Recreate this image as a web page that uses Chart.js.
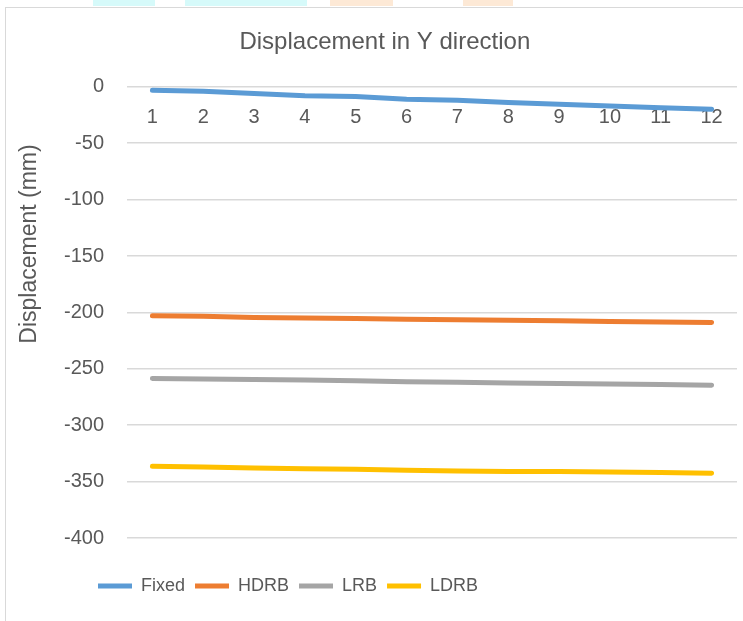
<!DOCTYPE html>
<html>
<head>
<meta charset="utf-8">
<script src="https://cdn.jsdelivr.net/npm/chart.js@4.4.1/dist/chart.umd.min.js"></script>
<style>
  html, body { margin: 0; padding: 0; background: #fff; overflow: hidden; }
  #wrap { position: relative; width: 743px; height: 621px; }
  .frame { position: absolute; left: 5px; top: 7px; width: 800px; height: 700px;
           border-left: 1.5px solid #d9d9d9; border-top: 1.5px solid #d9d9d9; }
  .blob { position: absolute; top: 0; height: 6px; }
  canvas { position: absolute; left: 0; top: 0; }
</style>
</head>
<body>
<div id="wrap">
  <div class="blob" style="left:93px;width:62px;background:#d6fafa"></div>
  <div class="blob" style="left:185px;width:122px;background:#d6fafa"></div>
  <div class="blob" style="left:330px;width:63px;background:#fde9d6"></div>
  <div class="blob" style="left:463px;width:50px;background:#fde9d6"></div>
  <div class="frame"></div>
  <canvas id="lineChart" width="743" height="621"></canvas>
</div>
<script>
'use strict';

const storeys = ['1', '2', '3', '4', '5', '6', '7', '8', '9', '10', '11', '12'];

const fixed = [-3, -4, -6, -8, -8.5, -11, -12, -14, -15.5, -17, -18.5, -20];
const hdrb = [-203, -203.5, -204.5, -205, -205.5, -206, -206.5, -207, -207.5, -208, -208.5, -209];
const lrb = [-258.5, -259, -259.5, -260, -260.5, -261.5, -262, -262.5, -263, -263.5, -264, -264.5];
const ldrb = [-336.5, -337, -338, -338.5, -339, -340, -340.5, -341, -341, -341.5, -342, -342.5];

const yTicks = [0, -50, -100, -150, -200, -250, -300, -350, -400];

const GREY = '#595959';
Chart.defaults.font.family = "'Liberation Sans', Arial, sans-serif";
Chart.defaults.color = GREY;

// excel style line
function series(label, data, colour) {
    return {
        label: label,
        data: data,
        borderColor: colour,
        backgroundColor: colour,
        borderWidth: 5,
        borderCapStyle: 'round',
        borderJoinStyle: 'round',
        pointRadius: 0,
        pointHoverRadius: 0,
        tension: 0
    };
}

// move the legend to where excel put it (left of centre, a bit lower)
const legendSpot = {
    id: 'legendSpot',
    afterLayout(chart) {
        const lg = chart.legend;
        lg.left = 88;
        lg.top += 29;
        lg.bottom += 29;
    }
};

const CHART = document.getElementById('lineChart');

let lineChart = new Chart(CHART, {
    type: 'line',
    data: {
        labels: storeys,
        datasets: [
            series('Fixed', fixed, '#5b9bd5'),
            series('HDRB', hdrb, '#ed7d31'),
            series('LRB', lrb, '#a5a5a5'),
            series('LDRB', ldrb, '#ffc000')
        ]
    },
    plugins: [legendSpot],
    options: {
        responsive: false,
        animation: false,
        devicePixelRatio: 1,
        layout: {
            padding: { left: 6, right: 6, top: 7, bottom: 45 }
        },
        plugins: {
            title: {
                display: true,
                // leading spaces: excel centres the title on the whole frame, which runs off the right edge
                text: '\u00a0\u00a0\u00a0\u00a0Displacement in Y direction',
                color: GREY,
                font: { size: 24, weight: 'normal' },
                padding: { top: 21, bottom: 30 }
            },
            legend: {
                position: 'bottom',
                align: 'start',
                labels: {
                    usePointStyle: true,
                    pointStyle: 'line',
                    pointStyleWidth: 34,
                    padding: 10,
                    color: GREY,
                    font: { size: 18 }
                }
            },
            tooltip: { enabled: false }
        },
        scales: {
            x: {
                position: { y: 0 },
                offset: true,
                grid: { display: false, drawTicks: false },
                border: { display: false },
                ticks: { padding: 19, color: GREY, font: { size: 20 } },
                afterFit: (s) => { s.height = 0; }
            },
            y: {
                min: -400,
                max: 0,
                afterBuildTicks: (s) => { s.ticks = yTicks.map(v => ({ value: v })); },
                grid: { color: '#d9d9d9', lineWidth: 1.6, drawTicks: false },
                border: { display: false },
                ticks: { padding: 23, color: GREY, font: { size: 20 } },
                title: {
                    display: true,
                    text: 'Displacement (mm)' + '\u00a0'.repeat(9),
                    align: 'end',
                    color: GREY,
                    font: { size: 23 },
                    padding: { top: 10 }
                },
                afterFit: (s) => { s.width = 121; }
            }
        }
    }
});
</script>
</body>
</html>
